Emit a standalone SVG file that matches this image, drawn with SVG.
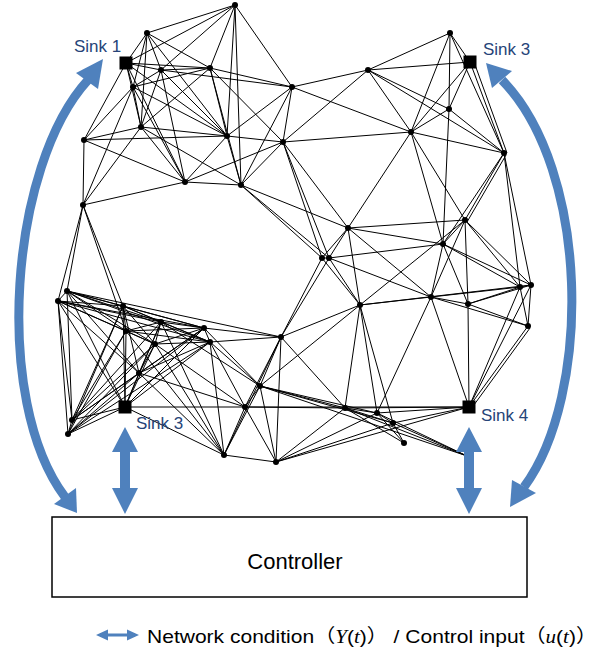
<svg xmlns="http://www.w3.org/2000/svg" width="611" height="651" viewBox="0 0 611 651">
<style>
.e{stroke:#000;stroke-width:1;fill:none}
.n{fill:#000}
.s{fill:#000}
.lbl{font-family:"Liberation Sans",Arial,sans-serif;font-size:17px;fill:#264478}
.arc{stroke:#4F81BD;stroke-width:9;fill:none}
.blue{fill:#4F81BD}
.t{font-family:"Liberation Sans",Arial,sans-serif;fill:#000}
.m{font-family:"Liberation Serif","DejaVu Serif",serif;font-style:italic}
.cjk{font-family:"Noto Sans CJK JP","Noto Sans CJK SC",sans-serif}
</style>
<rect width="611" height="651" fill="#fff"/>
<g id="connectors" class="e">
<path d="M126 63L147 33M126 63L235 5M126 63L161 70M126 63L210 68M126 63L133 87M126 63L141 127M126 63L84 140M126 63L227 136M126 63L185 182"/>
<path d="M147 33L235 5M147 33L161 70M147 33L210 68M147 33L133 87M147 33L141 127M147 33L227 136"/>
<path d="M235 5L161 70M235 5L210 68M235 5L227 136M235 5L241 185M235 5L292 87"/>
<path d="M161 70L210 68M161 70L133 87M161 70L141 127M161 70L227 136M161 70L185 182M161 70L292 87"/>
<path d="M210 68L133 87M210 68L141 127M210 68L227 136M210 68L292 87M210 68L283 142M210 68L241 185"/>
<path d="M133 87L141 127M133 87L84 140M133 87L227 136M133 87L185 182M133 87L83 205"/>
<path d="M141 127L84 140M141 127L227 136M141 127L185 182M141 127L241 185M141 127L83 205"/>
<path d="M84 140L227 136M84 140L185 182M84 140L83 205"/>
<path d="M227 136L185 182M227 136L241 185M227 136L292 87M227 136L283 142"/>
<path d="M185 182L241 185M185 182L83 205M185 182L283 142"/>
<path d="M241 185L292 87M241 185L283 142M241 185L348 228M241 185L322 258M241 185L329 258"/>
<path d="M83 205L67 291M83 205L58 301M83 205L123 306M83 205L126 331"/>
<path d="M292 87L283 142M292 87L368 70M292 87L411 132"/>
<path d="M283 142L368 70M283 142L411 132M283 142L348 228M283 142L322 258M283 142L329 258"/>
<path d="M368 70L411 132M368 70L450 33M368 70L470 62M368 70L449 109M368 70L504 153"/>
<path d="M411 132L450 33M411 132L470 62M411 132L449 109M411 132L504 153M411 132L465 220M411 132L443 244M411 132L348 228"/>
<path d="M450 33L470 62M450 33L449 109M450 33L504 153"/>
<path d="M470 62L449 109M470 62L504 153M474 62L507 153"/>
<path d="M449 109L504 153M449 109L443 244"/>
<path d="M504 153L465 220M506 155L467 222M504 153L443 244M504 153L520 287M504 153L531 285"/>
<path d="M465 220L443 244M465 220L431 297M465 220L468 304M465 220L520 287M465 220L531 285M465 220L348 228M465 220L360 305"/>
<path d="M443 244L348 228M443 244L329 258M443 244L431 297M443 244L468 304M443 244L520 287M443 244L531 285"/>
<path d="M348 228L322 258M348 228L329 258M348 228L360 305M348 228L431 297"/>
<path d="M322 258L329 258M322 258L360 305M322 258L281 337"/>
<path d="M329 258L360 305M329 258L281 337M329 258L431 297"/>
<path d="M360 305L431 297M360 305L281 337M360 305L260 386M360 305L345 408M360 305L377 413M360 305L393 423M360 305L531 285"/>
<path d="M431 297L468 304M431 297L520 287M431 297L528 326M431 297L469 407M431 297L377 413"/>
<path d="M468 304L520 287M468 304L531 285M468 304L528 326M468 304L469 407"/>
<path d="M520 287L531 285M520 287L528 326M520 287L469 407"/>
<path d="M531 285L528 326M531 285L469 407"/>
<path d="M528 326L469 407M530 328L471 409"/>
<path d="M469 407L245 407M469 407L377 413M469 407L393 423M469 407L276 462M469 407L345 408"/>
<path d="M404 443L393 423M404 443L377 413M404 443L345 408"/>
<path d="M393 423L377 413M393 423L345 408M393 423L260 386M393 423L276 462M393 423L467 456"/>
<path d="M377 413L345 408M377 413L260 386M377 413L276 462M377 413L467 456"/>
<path d="M345 408L281 337M345 408L260 386M345 408L245 407M345 408L276 462M345 408L467 456"/>
<path d="M281 337L260 386M281 337L245 407M281 337L276 462M281 337L204 328M281 337L210 342M281 337L224 455M281 337L67 291"/>
<path d="M260 386L245 407M260 386L276 462M260 386L224 455M260 386L204 328M260 386L210 342M260 386L161 322M260 386L467 456"/>
<path d="M245 407L276 462M245 407L224 455M245 407L125 407M245 407L139 373M245 407L210 342M245 407L155 344"/>
<path d="M276 462L224 455"/>
<path d="M224 455L125 407M224 455L139 373M224 455L155 344M224 455L126 331M224 455L161 322M224 455L210 342"/>
<path d="M125 407L139 373M125 407L155 344M125 407L126 331M125 407L123 306M125 407L161 322M125 407L204 328M125 407L210 342M125 407L67 291M125 407L58 301M125 407L72 420M125 407L68 434"/>
<path d="M139 373L155 344M139 373L123 306M139 373L161 322M139 373L204 328M139 373L210 342M139 373L67 291M139 373L58 301M139 373L72 420M139 373L68 434"/>
<path d="M155 344L126 331M155 344L123 306M155 344L161 322M155 344L204 328M155 344L210 342M155 344L67 291M155 344L58 301M155 344L72 420M155 344L68 434"/>
<path d="M126 331L123 306M126 331L161 322M126 331L204 328M126 331L210 342M126 331L67 291M126 331L58 301M126 331L72 420M126 331L68 434"/>
<path d="M123 306L161 322M123 306L204 328M123 306L210 342M123 306L67 291M123 306L58 301M123 306L72 420M123 306L68 434"/>
<path d="M161 322L204 328M161 322L210 342M161 322L67 291M161 322L58 301M161 322L72 420"/>
<path d="M204 328L210 342M204 328L67 291M204 328L58 301M204 328L72 420M204 328L68 434"/>
<path d="M210 342L67 291M210 342L58 301M210 342L68 434"/>
<path d="M67 291L58 301M67 291L72 420M58 301L72 420M58 301L68 434M72 420L68 434"/>
</g>
<g id="nodes" class="n">
<g id="n2"><circle cx="147" cy="33" r="3"/></g>
<g id="n3"><circle cx="235" cy="5" r="3"/></g>
<g id="n4"><circle cx="161" cy="70" r="3"/></g>
<g id="n5"><circle cx="210" cy="68" r="3"/></g>
<g id="n6"><circle cx="133" cy="87" r="3"/></g>
<g id="n7"><circle cx="141" cy="127" r="3"/></g>
<g id="n8"><circle cx="84" cy="140" r="3"/></g>
<g id="n9"><circle cx="227" cy="136" r="3"/></g>
<g id="n10"><circle cx="185" cy="182" r="3"/></g>
<g id="n11"><circle cx="241" cy="185" r="3"/></g>
<g id="n12"><circle cx="83" cy="205" r="3"/></g>
<g id="n13"><circle cx="292" cy="87" r="3"/></g>
<g id="n14"><circle cx="283" cy="142" r="3"/></g>
<g id="n15"><circle cx="368" cy="70" r="3"/></g>
<g id="n16"><circle cx="411" cy="132" r="3"/></g>
<g id="n17"><circle cx="450" cy="33" r="3"/></g>
<g id="n19"><circle cx="449" cy="109" r="3"/></g>
<g id="n20"><circle cx="504" cy="153" r="3"/></g>
<g id="n21"><circle cx="465" cy="220" r="3"/></g>
<g id="n22"><circle cx="443" cy="244" r="3"/></g>
<g id="n23"><circle cx="348" cy="228" r="3"/></g>
<g id="n24"><circle cx="322" cy="258" r="3"/></g>
<g id="n25"><circle cx="329" cy="258" r="3"/></g>
<g id="n26"><circle cx="360" cy="305" r="3"/></g>
<g id="n27"><circle cx="431" cy="297" r="3"/></g>
<g id="n28"><circle cx="468" cy="304" r="3"/></g>
<g id="n29"><circle cx="520" cy="287" r="3"/></g>
<g id="n30"><circle cx="531" cy="285" r="3"/></g>
<g id="n31"><circle cx="528" cy="326" r="3"/></g>
<g id="n33"><circle cx="404" cy="443" r="3"/></g>
<g id="n34"><circle cx="393" cy="423" r="3"/></g>
<g id="n35"><circle cx="377" cy="413" r="3"/></g>
<g id="n36"><circle cx="345" cy="408" r="3"/></g>
<g id="n37"><circle cx="281" cy="337" r="3"/></g>
<g id="n38"><circle cx="260" cy="386" r="3"/></g>
<g id="n39"><circle cx="245" cy="407" r="3"/></g>
<g id="n40"><circle cx="276" cy="462" r="3"/></g>
<g id="n41"><circle cx="224" cy="455" r="3"/></g>
<g id="n43"><circle cx="139" cy="373" r="3"/></g>
<g id="n44"><circle cx="155" cy="344" r="3"/></g>
<g id="n45"><circle cx="126" cy="331" r="3"/></g>
<g id="n46"><circle cx="123" cy="306" r="3"/></g>
<g id="n47"><circle cx="161" cy="322" r="3"/></g>
<g id="n48"><circle cx="204" cy="328" r="3"/></g>
<g id="n49"><circle cx="210" cy="342" r="3"/></g>
<g id="n50"><circle cx="67" cy="291" r="3"/></g>
<g id="n51"><circle cx="58" cy="301" r="3"/></g>
<g id="n52"><circle cx="72" cy="420" r="3"/></g>
<g id="n53"><circle cx="68" cy="434" r="3"/></g>
<g id="n54"><circle cx="467" cy="456" r="3"/></g>
</g>
<g id="sink1"><rect class="s" x="119.5" y="56.5" width="13" height="13"/><text class="lbl" x="74" y="52">Sink 1</text></g>
<g id="sink3-top"><rect class="s" x="463.5" y="55.5" width="13" height="13"/><text class="lbl" x="483" y="55">Sink 3</text></g>
<g id="sink3-bottom"><rect class="s" x="118.5" y="400.5" width="13" height="13"/><text class="lbl" x="136" y="429">Sink 3</text></g>
<g id="sink4"><rect class="s" x="462.5" y="400.5" width="13" height="13"/><text class="lbl" x="481" y="421">Sink 4</text></g>
<g id="arrows">
<path class="arc" d="M88 80C10 165 -8 400 65 497"/>
<polygon class="blue" points="103,59 76,73 98,89"/>
<polygon class="blue" points="77,513 54,504 76,488"/>
<path class="arc" d="M502 80C590 170 592 395 524 487"/>
<polygon class="blue" points="486,63 492,88 512,71"/>
<polygon class="blue" points="510,507 512,480 536,493"/>
<polygon class="blue" points="125,427 138,452 130,452 130,488 138,488 125,514 112,488 120,488 120,452 112,452"/>
<polygon class="blue" points="469,427 482,452 474,452 474,488 482,488 469,514 456,488 464,488 464,452 456,452"/>
</g>
<g id="controller">
<rect x="52" y="517" width="475" height="80" fill="#fff" stroke="#000" stroke-width="1.5"/>
<text class="t" x="295" y="569" font-size="22" text-anchor="middle">Controller</text>
</g>
<g id="legend">
<polygon class="blue" points="96,635 108,629.5 108,633.5 127,633.5 127,629.5 139,635 127,640.5 127,636.5 108,636.5 108,640.5"/>
<text class="t" x="147" y="643" font-size="19" textLength="450" lengthAdjust="spacingAndGlyphs">Network condition<tspan class="cjk">（</tspan><tspan class="m">Y</tspan>(<tspan class="m">t</tspan>)<tspan class="cjk">）</tspan> / Control input<tspan class="cjk">（</tspan><tspan class="m">u</tspan>(<tspan class="m">t</tspan>)<tspan class="cjk">）</tspan></text>
</g>
</svg>
